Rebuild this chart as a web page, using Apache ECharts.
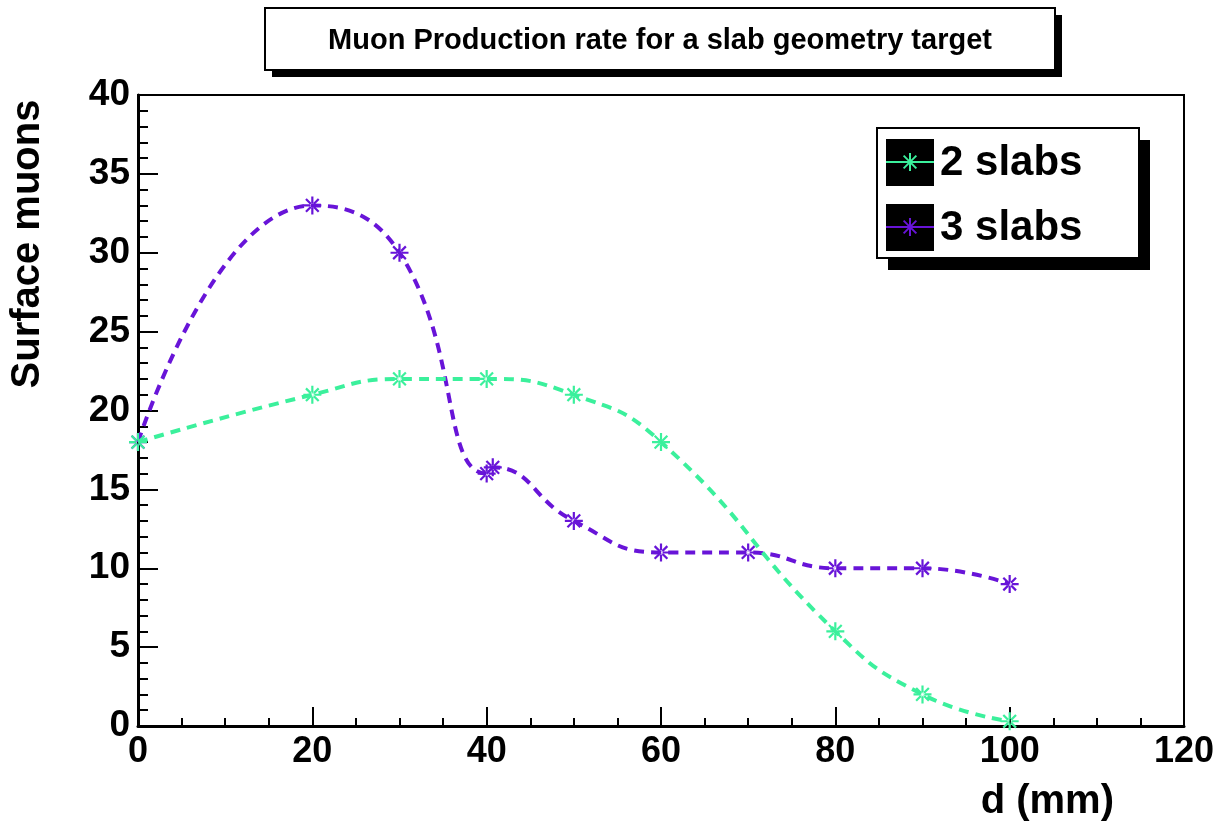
<!DOCTYPE html>
<html>
<head>
<meta charset="utf-8">
<title>Muon Production rate for a slab geometry target</title>
<script src="https://cdn.jsdelivr.net/npm/echarts@6/dist/echarts.min.js"></script>
<style>
  html, body { margin: 0; padding: 0; background: #fff; }
  #chart { width: 1222px; height: 822px; }
</style>
</head>
<body>
<div id="chart"></div>
<script>
// Measured surface-muon yield versus slab spacing d (mm)
const chartTitle = 'Muon Production rate for a slab geometry target';
const seriesNames = ['2 slabs', '3 slabs'];

const distance2 = [0, 20, 30, 40, 50, 60, 80, 90, 100];
const muons2    = [18, 21, 22, 22, 21, 18, 6, 2, 0.3];

const distance3 = [0, 20, 30, 40, 40.7, 50, 60, 70, 80, 90, 100];
const muons3    = [18, 33, 30, 16, 16.4, 13, 11, 11, 10, 10, 9];

const xAxisTitle = 'd (mm)';
const yAxisTitle = 'Surface muons';

const GREEN = '#3bf09c';
const PURPLE = '#6814d8';
const FONT = '"Liberation Sans", Arial, Helvetica, sans-serif';

// eight-spoke asterisk marker (plus and cross overlaid)
const ASTERISK =
  'path://M-9,-1.1L9,-1.1L9,1.1L-9,1.1Z' +
  'M-1.1,-9L1.1,-9L1.1,9L-1.1,9Z' +
  'M5.586,7.142L7.142,5.586L-5.586,-7.142L-7.142,-5.586Z' +
  'M-7.142,5.586L-5.586,7.142L7.142,-5.586L5.586,-7.142Z';

function pairs(xs, ys) {
  return xs.map((x, i) => [x, ys[i]]);
}

const chart = echarts.init(document.getElementById('chart'), null, { renderer: 'canvas' });

function curve(name, xs, ys, color, z) {
  return {
    name: name,
    type: 'line',
    data: pairs(xs, ys),
    smooth: 0.5,
    z: z,
    symbol: ASTERISK,
    symbolSize: 18,
    itemStyle: { color: color },
    lineStyle: { color: color, width: 4, type: [10, 7] },
    emphasis: { disabled: true },
    animation: false
  };
}

// small asterisk for the legend, built from four strokes
function legendStar(cx, cy, color) {
  const r = 9, d = r * Math.SQRT1_2;
  const segs = [[-r, 0, r, 0], [0, -r, 0, r], [-d, -d, d, d], [-d, d, d, -d]];
  return segs.map(s => ({
    type: 'line',
    shape: { x1: cx + s[0], y1: cy + s[1], x2: cx + s[2], y2: cy + s[3] },
    style: { stroke: color, lineWidth: 2 },
    z: 14
  }));
}

// legend box drawn as graphic elements
function legendItems() {
  let items = [];
  const box = { x: 877, y: 128, w: 262, h: 130 };
  items.push({ type: 'rect', shape: { x: box.x + 11, y: box.y + 12, width: box.w, height: box.h },
               style: { fill: '#000' }, z: 10 });
  items.push({ type: 'rect', shape: { x: box.x, y: box.y, width: box.w, height: box.h },
               style: { fill: '#fff', stroke: '#000', lineWidth: 2 }, z: 11 });
  const colors = [GREEN, PURPLE];
  const rows = [162, 227];
  seriesNames.forEach((name, i) => {
    const cy = rows[i];
    items.push({ type: 'rect', shape: { x: 886, y: cy - 23, width: 48, height: 47 },
                 style: { fill: '#000' }, z: 12 });
    items.push({ type: 'line', shape: { x1: 886, y1: cy, x2: 934, y2: cy },
                 style: { stroke: colors[i], lineWidth: 2 }, z: 13 });
    items = items.concat(legendStar(910, cy, colors[i]));
    items.push({ type: 'text', x: 940, y: cy + 1,
                 style: { text: name, fill: '#000', font: 'bold 42px ' + FONT,
                          align: 'left', verticalAlign: 'middle' }, z: 14 });
  });
  return items;
}

const option = {
  backgroundColor: '#fff',
  animation: false,
  grid: {
    left: 138, right: 38, top: 95, bottom: 96,
    show: true, borderColor: '#000', borderWidth: 2, backgroundColor: 'transparent'
  },
  xAxis: {
    type: 'value',
    min: 0, max: 120, interval: 20,
    name: xAxisTitle,
    nameLocation: 'end',
    nameGap: -70,
    nameTextStyle: {
      color: '#000', fontFamily: FONT, fontWeight: 'bold', fontSize: 40,
      align: 'right', verticalAlign: 'top', padding: [56, 0, 0, 0]
    },
    axisLine: { show: true, onZero: false, lineStyle: { color: '#000', width: 3 } },
    axisTick: { show: true, inside: true, length: 19, lineStyle: { color: '#000', width: 2 } },
    minorTick: { show: true, splitNumber: 4, length: 8, lineStyle: { color: '#000', width: 2 } },
    splitLine: { show: false },
    minorSplitLine: { show: false },
    axisLabel: {
      color: '#000', fontFamily: FONT, fontWeight: 'bold', fontSize: 36, margin: 8,
      showMinLabel: true, showMaxLabel: true
    }
  },
  yAxis: {
    type: 'value',
    min: 0, max: 40, interval: 5,
    axisLine: { show: true, onZero: false, lineStyle: { color: '#000', width: 3 } },
    axisTick: { show: true, inside: true, length: 20, lineStyle: { color: '#000', width: 2 } },
    minorTick: { show: true, splitNumber: 5, length: 10, lineStyle: { color: '#000', width: 2 } },
    splitLine: { show: false },
    minorSplitLine: { show: false },
    axisLabel: {
      color: '#000', fontFamily: FONT, fontWeight: 'bold', fontSize: 37, margin: 8,
      showMinLabel: true, showMaxLabel: true
    }
  },
  series: [
    curve(seriesNames[1], distance3, muons3, PURPLE, 2),
    curve(seriesNames[0], distance2, muons2, GREEN, 3)
  ],
  graphic: [
    // title box with drop shadow
    { type: 'rect', shape: { x: 272, y: 15, width: 790, height: 62 }, style: { fill: '#000' }, z: 10 },
    { type: 'rect', shape: { x: 265, y: 8, width: 790, height: 62 },
      style: { fill: '#fff', stroke: '#000', lineWidth: 2 }, z: 11 },
    { type: 'text', x: 660, y: 41,
      style: { text: chartTitle, fill: '#000', font: 'bold 29px ' + FONT,
               align: 'center', verticalAlign: 'middle' }, z: 12 },
    // vertical axis title
    { type: 'text', x: 28, y: 244, rotation: Math.PI / 2,
      style: { text: yAxisTitle, fill: '#000', font: 'bold 40px ' + FONT,
               align: 'center', verticalAlign: 'middle' }, z: 12 }
  ].concat(legendItems())
};

chart.setOption(option);
</script>
</body>
</html>
